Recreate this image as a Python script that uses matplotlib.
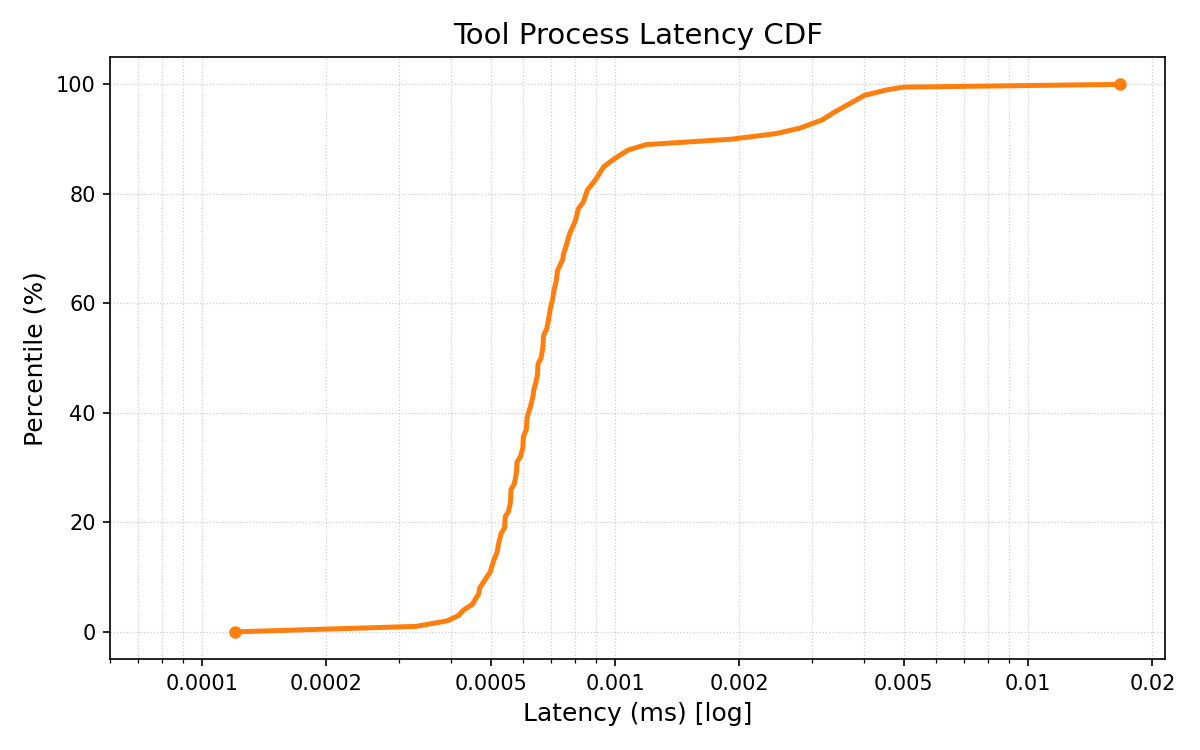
import matplotlib
matplotlib.use("Agg")
import matplotlib.pyplot as plt
import numpy as np

# percentile (%) and latency (ms)
percentile = [0, 1, 2, 3, 4, 5, 7, 8, 11, 13, 14.5, 16, 18, 19, 21, 22, 23.6, 26, 27, 29,
              31, 32, 33.6, 35.7, 37, 39, 41, 43, 44, 46, 47, 49, 50, 52, 54, 55.5, 57, 59,
              61, 62.5, 64, 66, 67, 68, 69, 70.4, 72, 73, 75, 77.3, 78.5, 80.7, 82.5, 85,
              86.5, 88, 89, 90, 91, 92, 93.5, 95, 98, 99, 99.5, 100]
latency_ms = [1.20e-4, 3.29e-4, 3.92e-4, 4.18e-4, 4.30e-4, 4.51e-4, 4.68e-4, 4.70e-4,
              4.99e-4, 5.08e-4, 5.18e-4, 5.22e-4, 5.30e-4, 5.40e-4, 5.42e-4, 5.52e-4,
              5.58e-4, 5.60e-4, 5.70e-4, 5.77e-4, 5.79e-4, 5.90e-4, 5.98e-4, 6.00e-4,
              6.10e-4, 6.12e-4, 6.23e-4, 6.33e-4, 6.35e-4, 6.45e-4, 6.49e-4, 6.51e-4,
              6.62e-4, 6.69e-4, 6.71e-4, 6.84e-4, 6.90e-4, 6.97e-4, 7.07e-4, 7.12e-4,
              7.20e-4, 7.26e-4, 7.36e-4, 7.47e-4, 7.50e-4, 7.61e-4, 7.71e-4, 7.79e-4,
              8.01e-4, 8.15e-4, 8.38e-4, 8.57e-4, 8.95e-4, 9.40e-4, 1.00e-3, 1.075e-3,
              1.19e-3, 1.92e-3, 2.45e-3, 2.80e-3, 3.17e-3, 3.41e-3, 4.02e-3, 4.55e-3,
              4.99e-3, 1.665e-2]

x_ticks = [0.0001, 0.0002, 0.0005, 0.001, 0.002, 0.005, 0.01, 0.02]
x_tick_labels = ["0.0001", "0.0002", "0.0005", "0.001", "0.002", "0.005", "0.01", "0.02"]

fig, ax = plt.subplots(figsize=(8, 5), dpi=150)
ax.plot(latency_ms, percentile, color="#ff7f0e", lw=2.4, marker="o", ms=5,
        markevery=[0, len(latency_ms) - 1])
ax.set_xscale("log")
ax.set_xlim(min(latency_ms) / 2, max(latency_ms) * 1.29)
ax.set_ylim(-5, 105)
ax.set_xticks(x_ticks)
ax.set_xticklabels(x_tick_labels)
ax.grid(True, which="both", ls=":", color="#b0b0b0", alpha=0.6, lw=0.6)
ax.set_title("Tool Process Latency CDF", fontsize=14)
ax.set_xlabel("Latency (ms) [log]", fontsize=12)
ax.set_ylabel("Percentile (%)", fontsize=12)
plt.subplots_adjust(left=0.092, right=0.971, top=0.924, bottom=0.121)
plt.savefig("out.png", dpi=150)
